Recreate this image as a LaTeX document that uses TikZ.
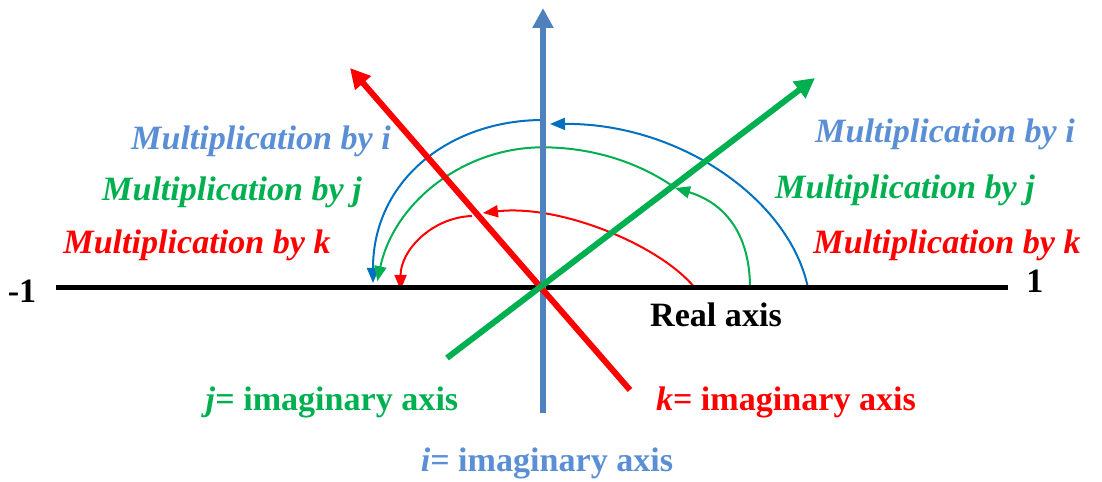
\documentclass[tikz,border=0pt]{standalone}
\usepackage{fontspec}
\setmainfont{Liberation Serif}
\usetikzlibrary{arrows.meta}
\definecolor{axisblue}{HTML}{4F81BD}
\definecolor{textblue}{HTML}{5B8FD5}
\definecolor{arcblue}{HTML}{0070C0}
\definecolor{jgreen}{HTML}{00B050}
\definecolor{kred}{HTML}{FF0000}
\tikzset{
  lbl/.style={font=\fontsize{9.7}{11}\selectfont\bfseries\itshape, inner sep=0pt, anchor=base},
  axlbl/.style={font=\fontsize{9.7}{11}\selectfont\bfseries, inner sep=0pt, anchor=base},
  axis/.style={line width=0.06cm, -{Triangle[length=0.2cm,width=0.2cm]}},
  turn/.style={line width=0.02cm, -{Triangle[length=0.15cm,width=0.12cm]}},
}
\begin{document}
\begin{tikzpicture}
\useasboundingbox (-5.43,-1.94) rectangle (5.59,2.88);
\coordinate (O) at (0,0);

% multiplication by i
\draw[turn,arcblue](2.65,0) .. controls (2.47,0.88) and (1.37,1.65) .. (0.07,1.64);
\draw[turn,arcblue](0,1.68) .. controls (-0.93,1.68) and (-1.70,1.08) .. (-1.70,0.05);
% multiplication by j
\draw[turn,jgreen](2.07,0) .. controls (2.07,0.73) and (1.62,0.91) .. (1.32,1.00);
\draw[turn,jgreen](1.28,1.03) arc [start angle=51, end angle=90, x radius=2.04, y radius=1.69]
  arc [start angle=90, end angle=168, radius=1.69];
% multiplication by k
\draw[turn,kred](1.52,0) .. controls (1.17,0.43) and (0.17,0.84) .. (-0.60,0.75);
\draw[turn,kred](-0.71,0.72) arc [start angle=92, end angle=180, radius=0.74];

% axes
\coordinate (m1) at (-4.87,0);
\coordinate (p1) at (4.65,0);
\draw[line width=0.05cm](m1)--(p1);
\draw[axis,axisblue](0,-1.25)--(0,2.80);
\draw[axis,kred](0.87,-1.02)--(-1.93,2.20);
\draw[axis,jgreen](-0.96,-0.70)--(2.72,2.10);

\node[axlbl] (minus) at (-5.21,-0.14){-1};
\node[axlbl] (one) at (4.92,-0.05){1};
\node[axlbl] (real) at (1.73,-0.39){Real axis};
\node[axlbl,jgreen] (jaxis) at (-2.11,-1.23){\textit{j}= imaginary axis};
\node[axlbl,kred] (kaxis) at (2.43,-1.23){\textit{k}= imaginary axis};
\node[axlbl,textblue] (iaxis) at (0.04,-1.84){\textit{i}= imaginary axis};

\node[lbl,textblue] (ileft) at (-2.82,1.38){Multiplication by i};
\node[lbl,jgreen] (jleft) at (-3.11,0.87){Multiplication by j};
\node[lbl,kred] (kleft) at (-3.46,0.34){Multiplication by k};
\node[lbl,textblue] (iright) at (4.02,1.45){Multiplication by i};
\node[lbl,jgreen] (jright) at (3.62,0.89){Multiplication by j};
\node[lbl,kred] (kright) at (4.04,0.34){Multiplication by k};
\end{tikzpicture}
\end{document}
